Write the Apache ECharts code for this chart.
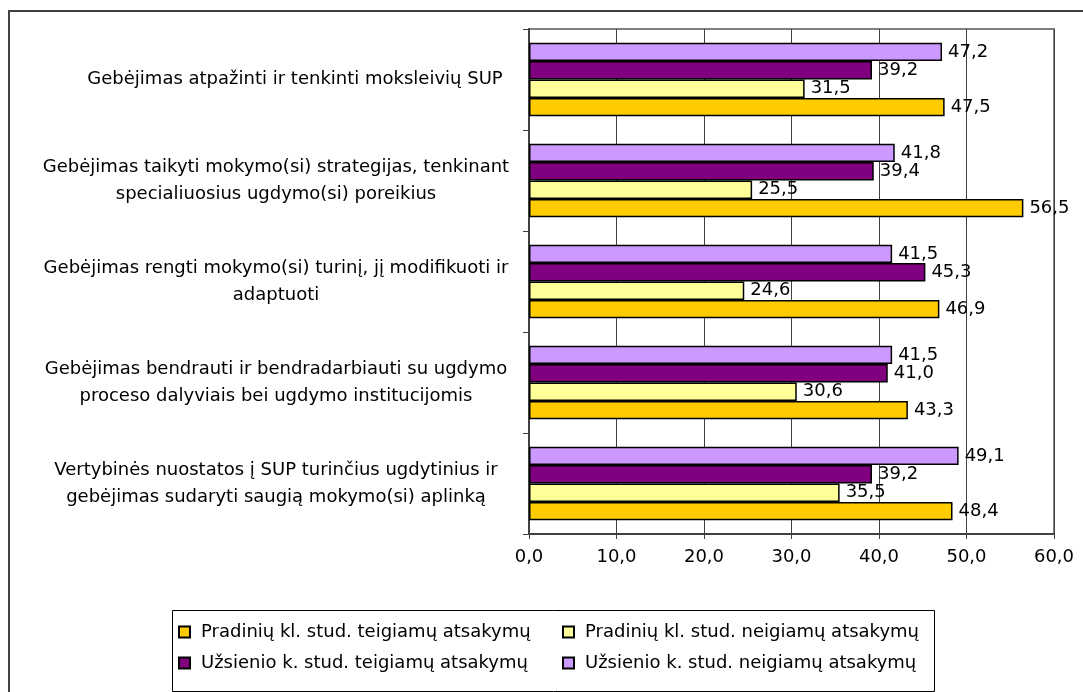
<!DOCTYPE html>
<html>
<head>
<meta charset="utf-8">
<script src="https://cdn.jsdelivr.net/npm/echarts@6/dist/echarts.min.js"></script>
<style>
  html, body { margin: 0; padding: 0; background: #fff; }
  #chart { width: 1083px; height: 692px; }
</style>
</head>
<body>
<div id="chart"></div>
<script>
// categories, top to bottom
const categories = [
  'Gebėjimas atpažinti ir tenkinti moksleivių SUP',
  'Gebėjimas taikyti mokymo(si) strategijas, tenkinant\nspecialiuosius ugdymo(si) poreikius',
  'Gebėjimas rengti mokymo(si) turinį, jį modifikuoti ir\nadaptuoti',
  'Gebėjimas bendrauti ir bendradarbiauti su ugdymo\nproceso dalyviais bei ugdymo institucijomis',
  'Vertybinės nuostatos į SUP turinčius ugdytinius ir\ngebėjimas sudaryti saugią mokymo(si) aplinką'
];
const pradTeig = [47.5, 56.5, 46.9, 43.3, 48.4];
const pradNeig = [31.5, 25.5, 24.6, 30.6, 35.5];
const uzsTeig = [39.2, 39.4, 45.3, 41.0, 39.2];
const uzsNeig = [47.2, 41.8, 41.5, 41.5, 49.1];
const seriesNames = [
  'Pradinių kl. stud. teigiamų atsakymų',
  'Pradinių kl. stud. neigiamų atsakymų',
  'Užsienio k. stud. teigiamų atsakymų',
  'Užsienio k. stud. neigiamų atsakymų'
];
const xMin = 0, xMax = 60, xStep = 10;

const FONT = '"DejaVu Sans", sans-serif';
const FS = 18;
const fmt = v => Number(v).toFixed(1).replace('.', ',');

const chart = echarts.init(document.getElementById('chart'), null, { renderer: 'canvas' });

const mkSeries = (name, data, color) => ({
  name,
  type: 'bar',
  data,
  barGap: 0,
  barCategoryGap: '27%',
  itemStyle: { color, borderColor: '#000', borderWidth: 1.5 },
  label: {
    show: true,
    position: 'right',
    distance: 6,
    color: '#000',
    fontFamily: FONT,
    fontSize: FS,
    formatter: p => fmt(p.value)
  },
  emphasis: { disabled: true }
});

// series listed top bar first within each group
const series = [
  mkSeries(seriesNames[3], uzsNeig, '#CC99FF'),
  mkSeries(seriesNames[2], uzsTeig, '#800080'),
  mkSeries(seriesNames[1], pradNeig, '#FFFF99'),
  mkSeries(seriesNames[0], pradTeig, '#FFCC00')
];

const legendText = { color: '#000', fontFamily: FONT, fontSize: FS, lineHeight: 20, padding: [0, 0, 0, 6] };

const option = {
  animation: false,
  backgroundColor: '#fff',
  grid: { left: 529, top: 29, right: 29, bottom: 158, show: true, borderColor: '#808080', borderWidth: 2 },
  xAxis: {
    type: 'value',
    min: xMin,
    max: xMax,
    interval: xStep,
    axisLine: { show: true, lineStyle: { color: '#404040', width: 2 } },
    axisTick: { show: true, length: 5, lineStyle: { color: '#404040' } },
    splitLine: { show: true, lineStyle: { color: '#404040', width: 1 } },
    axisLabel: { color: '#000', fontFamily: FONT, fontSize: FS, margin: 14, formatter: v => fmt(v) }
  },
  yAxis: {
    type: 'category',
    data: categories,
    inverse: true,
    axisLine: { show: true, lineStyle: { color: '#404040', width: 2 } },
    axisTick: { show: true, length: 6, lineStyle: { color: '#404040' } },
    splitLine: { show: false },
    axisLabel: {
      margin: 8,
      formatter: v => {
        const lines = v.split('\n');
        const key = lines.length === 1 ? 's' : 'm';
        return lines.map(l => '{' + key + '|' + l + '}').join('\n');
      },
      rich: {
        s: { width: 452, align: 'center', color: '#000', fontFamily: FONT, fontSize: FS, lineHeight: 27 },
        m: { width: 490, align: 'center', color: '#000', fontFamily: FONT, fontSize: FS, lineHeight: 27 }
      }
    }
  },
  legend: [
    {
      data: [seriesNames[0], seriesNames[2]],
      orient: 'vertical',
      left: 178,
      top: 622,
      padding: 0,
      itemGap: 11,
      itemWidth: 11,
      itemHeight: 11,
      icon: 'rect',
      selectedMode: false,
      textStyle: legendText
    },
    {
      data: [seriesNames[1], seriesNames[3]],
      orient: 'vertical',
      left: 562,
      top: 622,
      padding: 0,
      itemGap: 11,
      itemWidth: 11,
      itemHeight: 11,
      icon: 'rect',
      selectedMode: false,
      textStyle: legendText
    }
  ],
  graphic: [
    {
      type: 'rect',
      shape: { x: 9, y: 11, width: 1200, height: 800 },
      style: { fill: 'none', stroke: '#404040', lineWidth: 2 },
      silent: true,
      z: 100
    },
    {
      type: 'rect',
      shape: { x: 172.5, y: 610.5, width: 762, height: 81 },
      style: { fill: 'none', stroke: '#000', lineWidth: 1 },
      silent: true,
      z: 100
    }
  ],
  series
};

chart.setOption(option);
</script>
</body>
</html>
